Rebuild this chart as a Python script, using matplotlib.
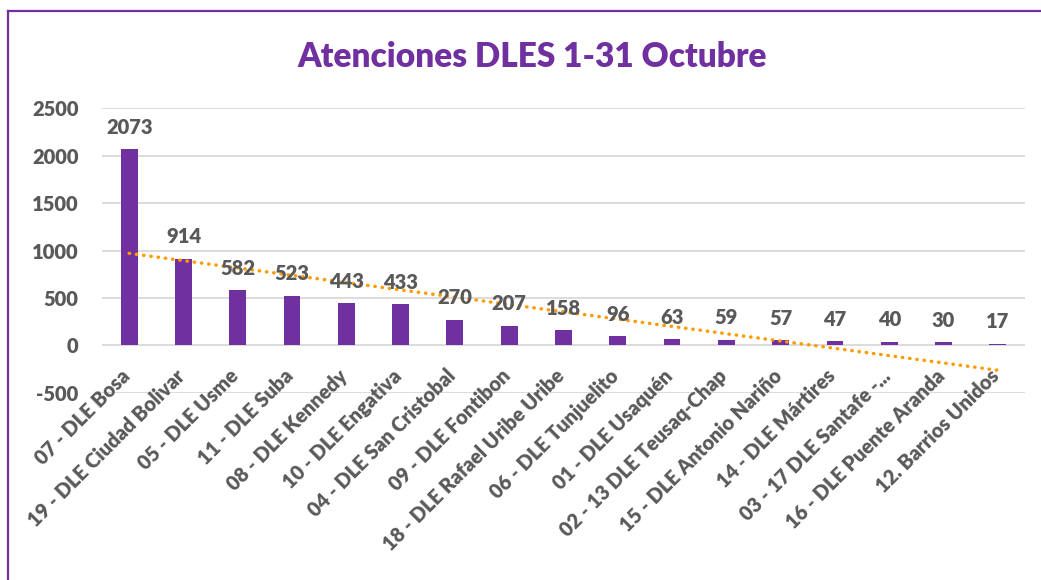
import matplotlib.pyplot as plt
import matplotlib.transforms as mtransforms
from matplotlib.lines import Line2D
import numpy as np

# data
categorias = ['07 - DLE Bosa', '19 - DLE Ciudad Bolivar', '05 - DLE Usme', '11 - DLE Suba',
              '08 - DLE Kennedy', '10 - DLE Engativa', '04 - DLE San Cristobal',
              '09 - DLE Fontibon', '18 - DLE Rafael Uribe Uribe', '06 - DLE Tunjuelito',
              '01 - DLE Usaquén', '02 - 13 DLE Teusaq-Chap', '15 - DLE Antonio Nariño',
              '14 - DLE Mártires', '03 - 17 DLE Santafe -...', '16 - DLE Puente Aranda',
              '12. Barrios Unidos']
atenciones = [2073, 914, 582, 523, 443, 433, 270, 207, 158, 96, 63, 59, 57, 47, 40, 30, 17]
y_ticks = [-500, 0, 500, 1000, 1500, 2000, 2500]

morado = '#7030A0'
gris = '#595959'
naranja = '#FF9A00'
fuente = ['Lato', 'DejaVu Sans']
peso = 'heavy'

plt.rcParams['font.family'] = fuente

fig = plt.figure(figsize=(10.41, 5.80), dpi=100)
ax = fig.add_axes([0.098, 0.3229, 0.8866, 0.4903])

x = np.arange(len(categorias))
ax.bar(x, atenciones, width=0.31, color=morado, zorder=2)

# linear trendline like excel
coef = np.polyfit(x, atenciones, 1)
ax.plot(x[[0, -1]], np.polyval(coef, x[[0, -1]]), color=naranja, lw=2.5,
        linestyle=(0, (0.1, 2.0)), dash_capstyle='round', zorder=3)

for xi, v in zip(x, atenciones):
    ax.annotate(str(v), (xi, v), xytext=(0, 11), textcoords='offset points',
                ha='center', va='baseline', fontsize=14.5, color=gris,
                fontweight=peso, zorder=4)

ax.set_xlim(-0.5, len(categorias) - 0.5)
ax.set_ylim(-500, 2500)
ax.set_yticks(y_ticks)
ax.set_yticklabels([str(t) for t in y_ticks], fontsize=14.5, color=gris, fontweight=peso)
ax.tick_params(axis='y', length=0, pad=17)
ax.set_xticks([])
ax.grid(axis='y', color='#D9D9D9', lw=1.3, zorder=0)
ax.set_axisbelow(True)
for s in ax.spines.values():
    s.set_visible(False)

trans = mtransforms.blended_transform_factory(ax.transData, ax.transAxes)
for xi, c in zip(x, categorias):
    ax.text(xi - 0.04, 0.07, c, transform=trans, rotation=45, rotation_mode='anchor',
            ha='right', va='center', fontsize=14.3, color=gris, fontweight=peso)

fig.text(532 / 1041, 1 - 67 / 580, 'Atenciones DLES 1-31 Octubre', ha='center',
         va='baseline', fontsize=24, color=morado, fontweight=peso)

# purple frame of the chart area
x0 = 8 / 1041
y0 = 1 - 11 / 580
fig.add_artist(Line2D([x0, x0], [0, y0], color=morado, lw=1.6, transform=fig.transFigure))
fig.add_artist(Line2D([x0, 1], [y0, y0], color=morado, lw=1.6, transform=fig.transFigure))

fig.savefig('out.png', dpi=100)
